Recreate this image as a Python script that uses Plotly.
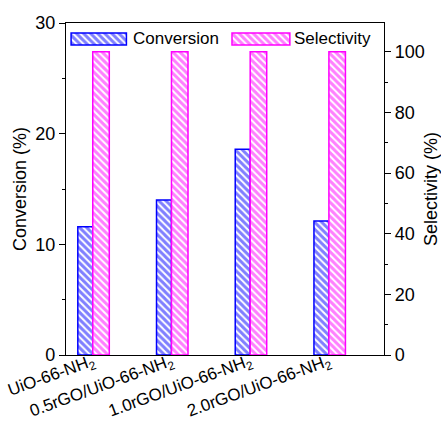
import plotly.graph_objects as go

categories = ["UiO-66-NH<sub>2</sub>", "0.5rGO/UiO-66-NH<sub>2</sub>",
              "1.0rGO/UiO-66-NH<sub>2</sub>", "2.0rGO/UiO-66-NH<sub>2</sub>"]
conversion = [11.6, 14.0, 18.6, 12.1]
selectivity = [100, 100, 100, 100]
series_names = ["Conversion", "Selectivity"]

BLUE = "#0000FF"
PINK = "#FF00FF"
FONT = "Liberation Sans, Arial, sans-serif"
xpos = list(range(len(categories)))

def pat(col):
    return dict(color="white", line=dict(color=col, width=1.5),
                pattern=dict(shape="\\", fgcolor=col, bgcolor="white", size=5, solidity=0.6))

fig = go.Figure()
fig.add_trace(go.Bar(
    x=xpos, y=conversion, width=0.19, offset=-0.19, name=series_names[0],
    marker=pat(BLUE), showlegend=False, yaxis="y"))
fig.add_trace(go.Bar(
    x=xpos, y=selectivity, width=0.21, offset=0.0, name=series_names[1],
    marker=pat(PINK), showlegend=False, yaxis="y2"))

# legend swatches drawn on a hidden overlay axis (0..1 in plot-area fraction)
legend_x = [(0.016 + 0.19) / 2, (0.522 + 0.704) / 2]
legend_w = [0.174, 0.182]
for i, col in enumerate([BLUE, PINK]):
    fig.add_trace(go.Bar(
        x=[legend_x[i]], y=[0.036], base=[0.934], width=[legend_w[i]],
        marker=pat(col), showlegend=False, hoverinfo="skip", xaxis="x3", yaxis="y3"))

fig.add_annotation(x=0.203, y=0.952, xref="x3", yref="y3", text=series_names[0],
                   showarrow=False, xanchor="left", yanchor="middle",
                   font=dict(family=FONT, size=17, color="black"))
fig.add_annotation(x=0.712, y=0.952, xref="x3", yref="y3", text=series_names[1],
                   showarrow=False, xanchor="left", yanchor="middle",
                   font=dict(family=FONT, size=17, color="black"))

axis_common = dict(showline=True, linecolor="black", linewidth=1.3, ticks="outside",
                   tickcolor="black", tickwidth=1.3, ticklen=6, showgrid=False, zeroline=False,
                   automargin=False,
                   tickfont=dict(family=FONT, size=18, color="black"))

fig.update_layout(
    width=441, height=421,
    margin=dict(l=66, r=57, t=23, b=66),
    paper_bgcolor="white", plot_bgcolor="white",
    barmode="overlay",
    xaxis=dict(range=[-0.34, 3.70], tickmode="array", tickvals=xpos, ticktext=categories,
               tickangle=-20, showline=True, linecolor="black", linewidth=1.3, mirror=True,
               ticks="", showgrid=False, zeroline=False, automargin=False,
               ticklabelstandoff=-11,
               tickfont=dict(family=FONT, size=17, color="black")),
    yaxis=dict(range=[0, 30], tickvals=[0, 10, 20, 30],
               minor=dict(tickvals=[5, 15, 25], ticks="outside", ticklen=3, tickcolor="black", tickwidth=1.3),
               title=dict(text="Conversion (%)", font=dict(family=FONT, size=18, color="black"), standoff=3),
               **axis_common),
    yaxis2=dict(range=[0, 109.5], tickvals=[0, 20, 40, 60, 80, 100], overlaying="y", side="right",
                minor=dict(tickvals=[10, 30, 50, 70, 90], ticks="outside", ticklen=3, tickcolor="black", tickwidth=1.3),
                title=dict(text="Selectivity (%)", font=dict(family=FONT, size=18, color="black"), standoff=8),
                **axis_common),
    xaxis3=dict(range=[0, 1], overlaying="x", visible=False),
    yaxis3=dict(range=[0, 1], overlaying="y", visible=False),
    showlegend=False,
)

fig.write_html("out.html")
